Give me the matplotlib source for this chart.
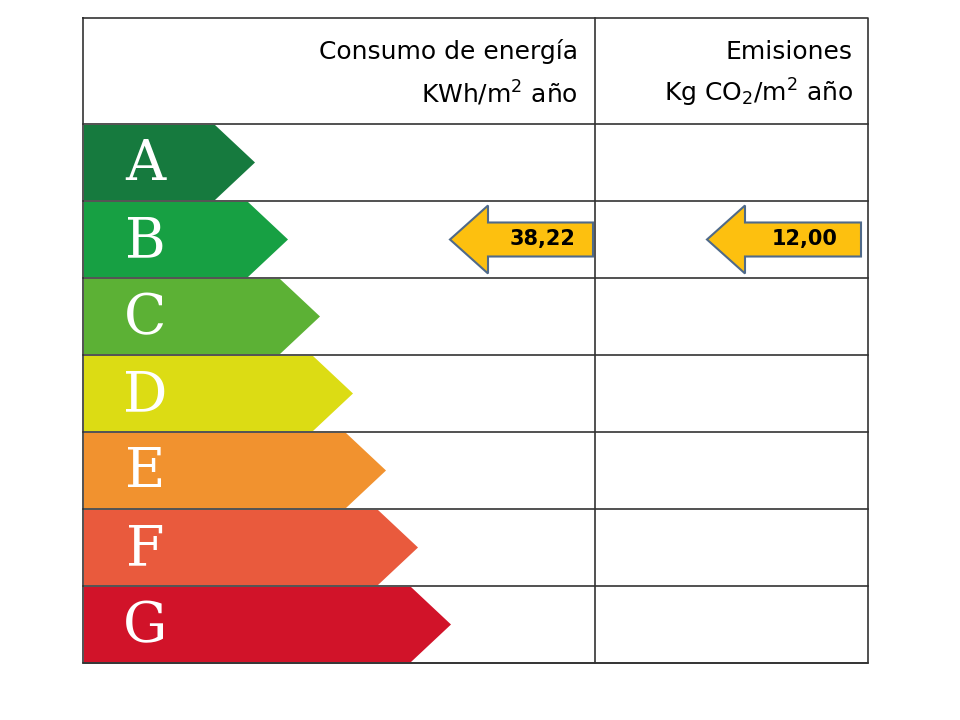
import matplotlib
matplotlib.use("Agg")
import matplotlib.pyplot as plt
from matplotlib.patches import Polygon

# Energy rating classes
letters = ["A", "B", "C", "D", "E", "F", "G"]
colors = ["#167a3e", "#17a043", "#5cb135", "#dcdc14", "#f1922f", "#e95a3d", "#d11329"]
tips = [255, 288, 320, 353, 386, 418, 451]  # arrow tip x per class

consumo_label = "38,22"
emisiones_label = "12,00"
rating_row = 1  # B

left, right, mid = 83, 868, 595
top, head_bot = 18, 124
row_h = (663 - 124) / 7

fig = plt.figure(figsize=(9.6, 7.2), dpi=100)
ax = fig.add_axes([0, 0, 1, 1])
ax.set_xlim(0, 960)
ax.set_ylim(720, 0)
ax.axis("off")

# grid lines
ax.plot([left, right, right, left, left], [top, top, 663, 663, top], color="#333", lw=1.2)
ax.plot([mid, mid], [top, 663], color="#333", lw=1.2)
for i in range(8):
    y = head_bot + i * row_h
    ax.plot([left, right], [y, y], color="#333", lw=1.2)

# header
ax.text(578, 52, "Consumo de energía", ha="right", va="center", fontsize=18)
ax.text(578, 93, "KWh/m$^2$ año", ha="right", va="center", fontsize=18)
ax.text(853, 52, "Emisiones", ha="right", va="center", fontsize=18)
ax.text(853, 93, "Kg CO$_2$/m$^2$ año", ha="right", va="center", fontsize=18)

# class arrows
for i, (lt, c, tip) in enumerate(zip(letters, colors, tips)):
    y0 = head_bot + i * row_h + 1
    y1 = y0 + row_h - 2
    ym = (y0 + y1) / 2
    body = tip - 40
    ax.add_patch(Polygon([[left + 1, y0], [body, y0], [tip, ym], [body, y1], [left + 1, y1]],
                         closed=True, facecolor=c, edgecolor="none"))
    ax.text(145, ym + 2, lt, color="white", ha="center", va="center",
            fontsize=40, family="DejaVu Serif")

# value indicator arrows
def indicator(x_tip, x_end, row, label):
    ym = head_bot + row * row_h + row_h / 2
    xb = x_tip + 38
    pts = [[x_tip, ym], [xb, ym - 34], [xb, ym - 17], [x_end, ym - 17],
           [x_end, ym + 17], [xb, ym + 17], [xb, ym + 34]]
    ax.add_patch(Polygon(pts, closed=True, facecolor="#fdc00f", edgecolor="#4f6a8a", lw=1.5))
    ax.text((xb + x_end) / 2 + 2, ym, label, ha="center", va="center",
            fontsize=15, fontweight="bold")

indicator(450, 593, rating_row, consumo_label)
indicator(707, 861, rating_row, emisiones_label)

fig.savefig("out.png", dpi=100)
